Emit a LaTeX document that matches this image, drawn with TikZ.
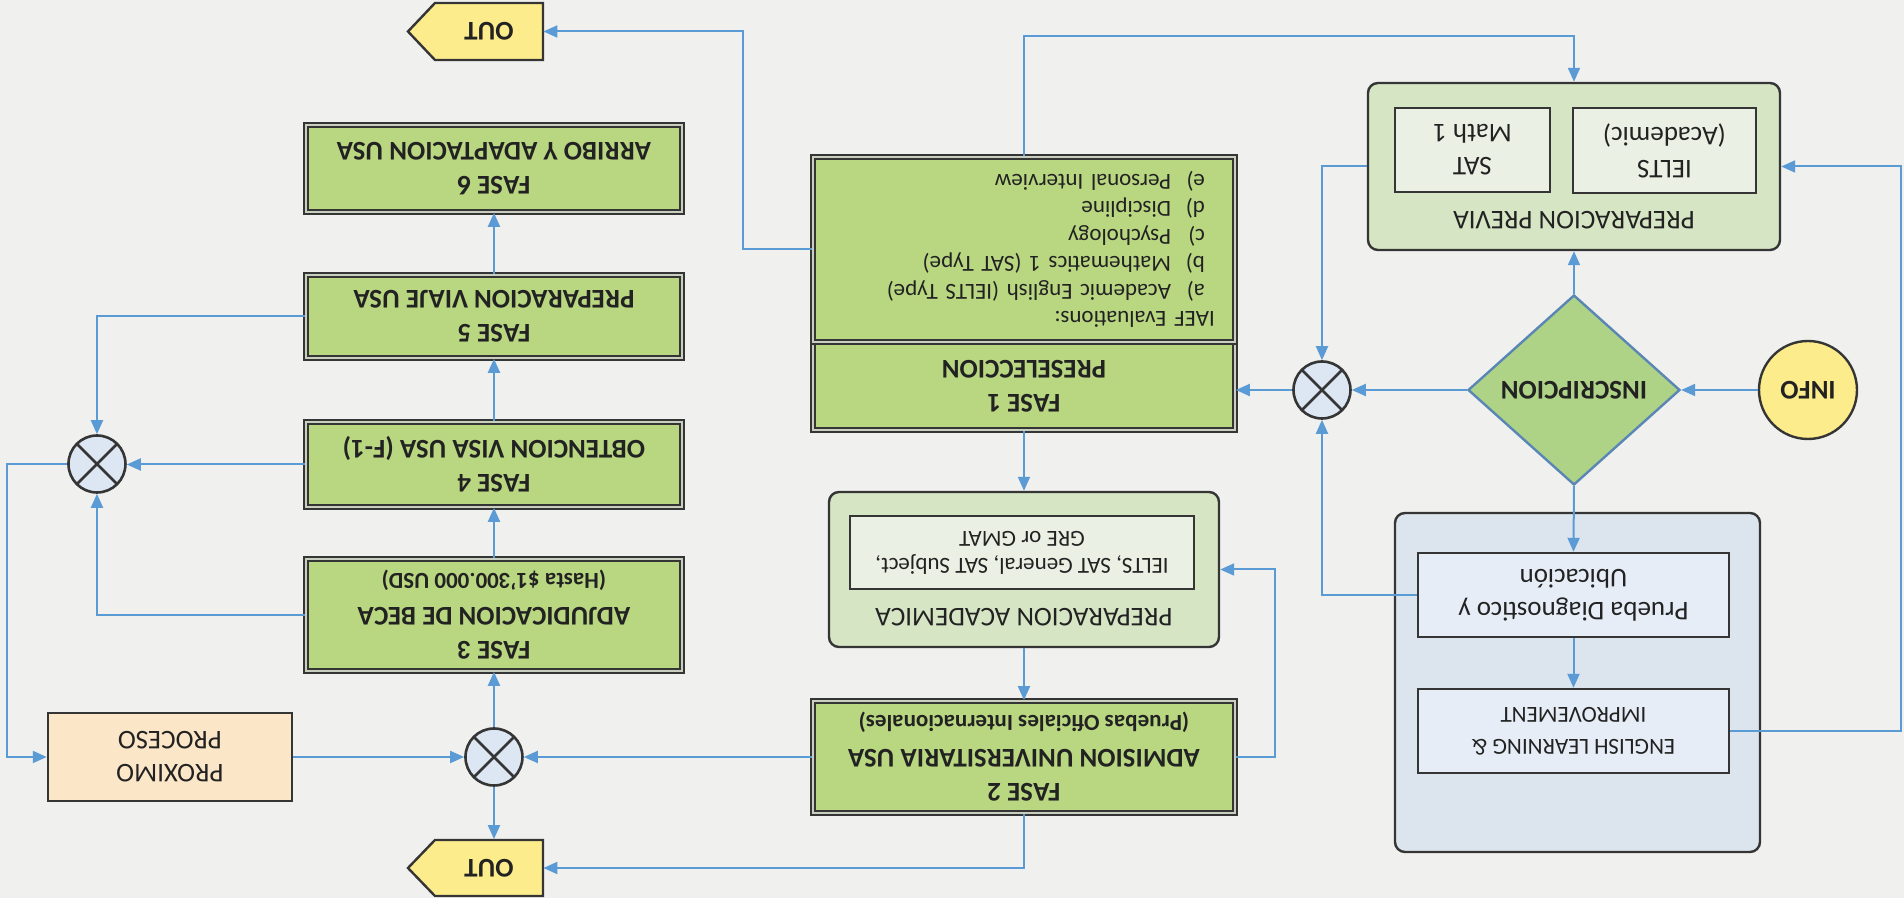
\documentclass[tikz,border=0pt]{standalone}
\usepackage{fontspec}
\setmainfont{Carlito}
\usetikzlibrary{shapes.geometric,arrows.meta,calc}

\definecolor{bg}{HTML}{F0F0EF}
\definecolor{lblue}{HTML}{5B9BD5}
\definecolor{fgreen}{HTML}{B9D681}
\definecolor{fgap}{HTML}{C8CFBE}
\definecolor{cgreen}{HTML}{D6E5C4}
\definecolor{igreen}{HTML}{EBF0E4}
\definecolor{cblue}{HTML}{DCE4EE}
\definecolor{iblue}{HTML}{E6EDF7}
\definecolor{dgreen}{HTML}{AED286}
\definecolor{dborder}{HTML}{5A86B5}
\definecolor{yel}{HTML}{FCEC8C}
\definecolor{peach}{HTML}{FCE6C8}
\definecolor{xfill}{HTML}{DDE7F3}
\definecolor{ink}{HTML}{222222}
\definecolor{edge}{HTML}{353535}

\newcommand{\evitem}[1]{\hspace*{5pt}\makebox[17pt][l]{#1}}

\tikzset{
 conn/.style={draw=lblue, line width=1pt},
 arr/.style={conn, -{Triangle[length=7pt,width=6pt]}},
 fasebox/.style={rectangle, draw=edge, double=fgap, double distance=1pt, line width=0.85pt,
   fill=fgreen, text=ink, align=center, inner sep=0pt,
   font=\fontsize{13.5}{17}\selectfont\bfseries},
 cont/.style={rectangle, rounded corners=5pt, draw=edge, line width=1.2pt, inner sep=0pt},
 ibox/.style={rectangle, draw=edge, line width=1.2pt, align=center, inner sep=0pt, text=ink,
   font=\fontsize{13.5}{16.5}\selectfont},
 xnode/.style={circle, draw=edge, line width=1.3pt, fill=xfill, minimum size=28.5pt, inner sep=0pt,
   path picture={\draw[edge, line width=1.3pt]
     (path picture bounding box.north west) -- (path picture bounding box.south east)
     (path picture bounding box.north east) -- (path picture bounding box.south west);}},
 lbl/.style={text=ink, inner sep=0pt, font=\fontsize{13.5}{16.5}\selectfont},
 outlbl/.style={text=ink, inner sep=0pt, minimum width=54pt, minimum height=28.5pt,
   font=\fontsize{13.5}{16}\selectfont\bfseries},
 outshape/.style={draw=edge, line width=1.2pt, fill=yel},
}

\begin{document}
\begin{tikzpicture}[x=0.5pt,y=0.5pt]
\begin{scope}[rotate=180, transform shape]
\fill[bg] (0,0) rectangle (1904,-898);
\useasboundingbox (0,0) rectangle (1904,-898);

% containers
\node[cont, fill=cblue, minimum width=182.5pt, minimum height=169.5pt] (blue) at (326.5,-215.5) {};
\node[cont, fill=cgreen, minimum width=195pt, minimum height=77.5pt] (acad) at (880,-328.5) {};
\node[cont, fill=cgreen, minimum width=206pt, minimum height=83.5pt] (prev) at (330,-731.5) {};

% inner boxes
\node[ibox, fill=iblue, minimum width=155.5pt, minimum height=42pt] (prueba) at (330.5,-303) {Prueba Diagnostico y\\Ubicación};
\node[ibox, fill=iblue, minimum width=155.5pt, minimum height=42pt, font=\fontsize{11.5}{16}\selectfont] (english) at (330.5,-167) {ENGLISH LEARNING \&\\IMPROVEMENT};
\node[ibox, fill=igreen, minimum width=172pt, minimum height=36.5pt, font=\fontsize{11.5}{13.5}\selectfont] (acadin) at (882,-345.5) {IELTS, SAT General, SAT Subject,\\GRE or GMAT};
\node[lbl] (acadlbl) at (880,-281) {PREPARACION ACADEMICA};
\node[ibox, fill=igreen, minimum width=91.5pt, minimum height=42.5pt] (ielts) at (239.5,-747.5) {IELTS\\(Academic)};
\node[ibox, fill=igreen, minimum width=77.5pt, minimum height=42pt] (sat) at (431.5,-748) {SAT\\Math 1};
\node[lbl] (prevlbl) at (330,-678) {PREPARACION PREVIA};

% decision, start, junctions
\node[diamond, draw=dborder, line width=1.2pt, fill=dgreen, minimum width=106pt, minimum height=95pt,
  inner sep=0pt, text=ink, font=\fontsize{13.5}{16}\selectfont\bfseries] (insc) at (330,-508) {INSCRIPCION};
\node[circle, draw=edge, line width=1.2pt, fill=yel, minimum size=49pt, inner sep=0pt, text=ink,
  font=\fontsize{13.5}{16}\selectfont\bfseries] (info) at (96,-508) {INFO};
\node[xnode] (xr) at (582,-508) {};
\node[xnode] (xb) at (1410,-141) {};
\node[xnode] (xl) at (1807,-434) {};

% phases
\node[fasebox, minimum width=211pt, minimum height=44pt] (fase1) at (880,-512) {FASE 1\\PRESELECCION};
\node[fasebox, minimum width=211pt, minimum height=92.5pt, align=left, text width=191pt,
  font=\fontsize{11.5}{13.75}\selectfont] (evals) at (880,-648.5) {IAEF Evaluations:\\
\evitem{a)}Academic English (IELTS Type)\\
\evitem{b)}Mathematics 1 (SAT Type)\\
\evitem{c)}Psychology\\
\evitem{d)}Discipline\\
\evitem{e)}Personal Interview};
\node[fasebox, minimum width=211pt, minimum height=56pt] (fase2) at (880,-141) {FASE 2\\ADMISION UNIVERSITARIA USA\\{\fontsize{11.5}{14}\selectfont (Pruebas Oficiales Internacionales)}};
\node[fasebox, minimum width=188pt, minimum height=56pt] (fase3) at (1410,-283) {FASE 3\\ADJUDICACION DE BECA\\{\fontsize{11.5}{14}\selectfont (Hasta \$1'300.000 USD)}};
\node[fasebox, minimum width=188pt, minimum height=42.5pt] (fase4) at (1410,-433.5) {FASE 4\\OBTENCION VISA USA (F-1)};
\node[fasebox, minimum width=188pt, minimum height=41.5pt] (fase5) at (1410,-581.5) {FASE 5\\PREPARACION VIAJE USA};
\node[fasebox, minimum width=188pt, minimum height=43.5pt] (fase6) at (1410,-729.5) {FASE 6\\ARRIBO Y ADAPTACION USA};

\node[ibox, fill=peach, minimum width=122pt, minimum height=44pt] (prox) at (1734,-141) {PROXIMO\\PROCESO};

% OUT terminals
\draw[outshape] (1361,-838) -- (1469,-838) -- (1496,-866.5) -- (1469,-895) -- (1361,-895) -- cycle;
\node[outlbl] (out1) at (1415,-866.5) {OUT};
\draw[outshape] (1361,-2) -- (1469,-2) -- (1496,-30) -- (1469,-58) -- (1361,-58) -- cycle;
\node[outlbl] (out2) at (1415,-30) {OUT};

% helper coordinates
\coordinate (rr) at (3,-168);
\coordinate (lp) at (629,0);
\coordinate (bt) at (0,-862);
\coordinate (ob) at (1161,0);
\coordinate (ll) at (1897,0);

% connectors
\draw[arr] (info) -- (insc);
\draw[arr] (insc) -- (xr);
\draw[arr] (xr.east) -- (xr.east -| fase1.west);
\draw[arr] (insc.south) -- (prev.north);
\draw[arr] (insc.north) -- (prueba.south);
\draw[arr] (prueba.north) -- (english.south);
\draw[arr] (prueba.east) -| (xr.north);
\draw[arr] (prev.east) -| (xr.south);
\draw[arr] (english.west) -- (english.west -| rr) |- (prev.west);
\draw[arr] (fase1.north) -- (acad.south);
\draw[arr] (acad.north) -- (fase2.south);
\draw[arr] (fase2.west) -- (fase2.west -| lp) |- (acad.west);
\draw[arr] (evals.south) -- (evals.south |- bt) -| (prev.south);
\draw[arr] (evals.east) -- (evals.east -| ob) |- (out1.west);
\draw[arr] (fase2.north) |- (out2.west);
\draw[arr] (fase2.east) -- (xb.west);
\draw[arr] (prox.west) -- (xb.east);
\draw[arr] (xb.north) -- (xb.north |- out2.south);
\draw[arr] (xb.south) -- (fase3.north);
\draw[arr] (fase3.south) -- (fase4.north);
\draw[arr] (fase4.south) -- (fase5.north);
\draw[arr] (fase5.south) -- (fase6.north);
\draw[arr] (fase3.east) -| (xl.north);
\draw[arr] (fase4.east) -- (fase4.east -| xl.west);
\draw[arr] (fase5.east) -| (xl.south);
\draw[arr] (xl.east) -- (xl.east -| ll) |- (prox.east);
\end{scope}
\end{tikzpicture}
\end{document}
